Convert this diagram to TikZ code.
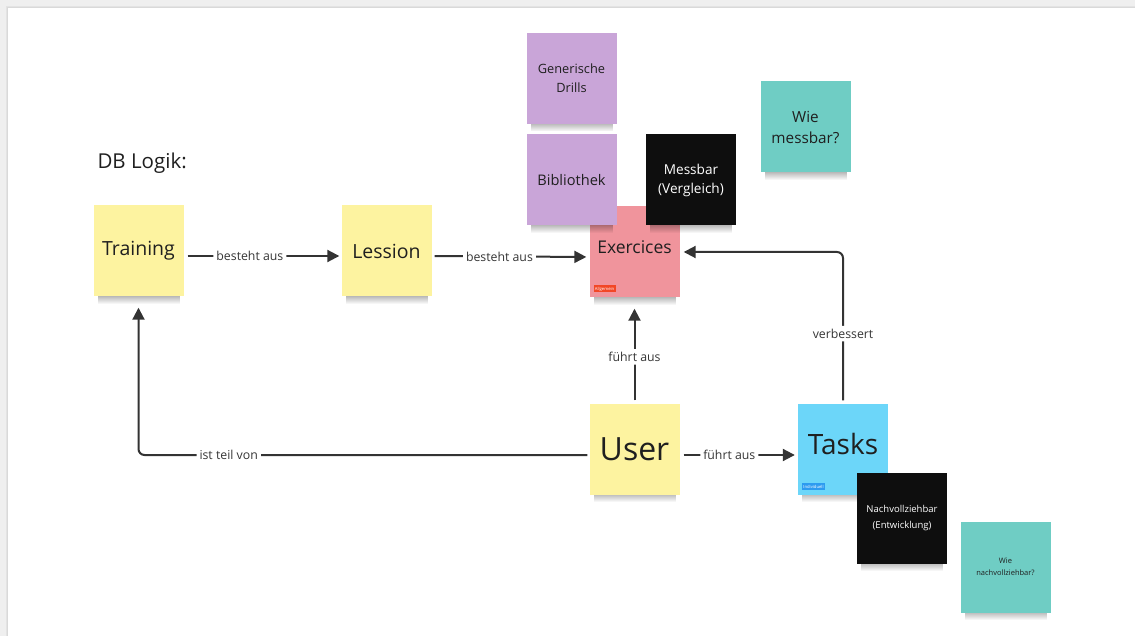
\documentclass[tikz,border=0pt]{standalone}
\usepackage{fontspec}
\setmainfont{Open Sans}
\usetikzlibrary{arrows.meta,fadings}

\definecolor{bgframe}{HTML}{EFEFEF}
\definecolor{ink}{HTML}{1F1F1F}
\definecolor{wire}{HTML}{333333}
\definecolor{noteyellow}{HTML}{FDF3A0}
\definecolor{notepink}{HTML}{F0949C}
\definecolor{notepurple}{HTML}{C9A5D8}
\definecolor{noteteal}{HTML}{6FCDC4}
\definecolor{noteblue}{HTML}{6CD6F9}
\definecolor{noteblack}{HTML}{0E0E0E}
\definecolor{tagred}{HTML}{F24726}
\definecolor{tagblue}{HTML}{2D9BF0}

\tikzset{
  sticky/.style={rectangle, minimum width=90pt, minimum height=91pt,
    inner sep=2pt, align=center, text=ink},
  darksticky/.style={sticky, fill=noteblack, text=white},
  wirelabel/.style={fill=white, inner sep=3pt, font=\fontsize{12.3}{14}\selectfont, text=ink!90},
  link/.style={draw=wire, line width=2pt, rounded corners=6pt,
    -{Triangle[length=12pt,width=12pt]}},
  tag/.style={inner sep=1.4pt, font=\fontsize{4.2}{5}\selectfont, text=white, anchor=south west},
}

% soft shadow under a sticky note centred at (#1,#2)
\newcommand\noteshadow[2]{%
  \fill[black, opacity=.45, path fading=south]
    (#1-41,#2+40) rectangle (#1+41,#2+53);
}

\begin{document}
\begin{tikzpicture}[x=1pt, y=-1pt]
  \useasboundingbox (0,0) rectangle (1135,636);

  % board frame
  \fill[bgframe] (0,0) rectangle (1135,636);
  \fill[gray!22] (6,6) rectangle (1135,636);
  \fill[gray!30] (7,7) rectangle (1135,636);
  \fill[white] (8,8) rectangle (1135,636);

  \node[anchor=west, font=\fontsize{20.5}{24}\selectfont, text=ink] (title) at (94,163) {DB Logik:};

  % main entities
  \noteshadow{138.5}{251}
  \node[sticky, fill=noteyellow, font=\fontsize{19.5}{23}\selectfont] (training) at (138.5,251) {Training};
  \noteshadow{386.5}{251}
  \node[sticky, fill=noteyellow, font=\fontsize{19.5}{23}\selectfont] (lession) at (386.5,251) {Lession};

  \noteshadow{634.5}{252}
  \node[sticky, fill=notepink, font=\fontsize{17.5}{20}\selectfont] (exercices) at (634.5,252) {\raisebox{10pt}{Exercices}};
  \node[tag, fill=tagred] (tagall) at ([xshift=4pt,yshift=5pt]exercices.south west) {Allgemein};

  \noteshadow{571.5}{78.5}
  \node[sticky, fill=notepurple, font=\fontsize{12.8}{19}\selectfont] (drills) at (571.5,78.5) {Generische\\Drills};
  \noteshadow{571.5}{180}
  \node[sticky, fill=notepurple, font=\fontsize{14.6}{17}\selectfont] (biblio) at (571.5,180) {Bibliothek};
  \noteshadow{691}{180}
  \node[darksticky, font=\fontsize{13.6}{19}\selectfont] (messbar) at (691,180) {Messbar\\(Vergleich)};

  \noteshadow{805.5}{127}
  \node[sticky, fill=noteteal, font=\fontsize{15.3}{21}\selectfont] (wiemess) at (805.5,127) {Wie\\messbar?};

  \noteshadow{634.5}{449}
  \node[sticky, fill=noteyellow, font=\fontsize{32}{36}\selectfont] (user) at (634.5,449) {User};

  \noteshadow{843}{449}
  \node[sticky, fill=noteblue, font=\fontsize{28}{32}\selectfont] (tasks) at (843,449) {\raisebox{10pt}{Tasks}};
  \node[tag, fill=tagblue] (tagind) at ([xshift=4pt,yshift=5pt]tasks.south west) {Individuell};

  \noteshadow{902}{518}
  \node[darksticky, font=\fontsize{9.5}{16}\selectfont] (nachv) at (902,518) {Nachvollziehbar\\(Entwicklung)};

  \noteshadow{1005.5}{567}
  \node[sticky, fill=noteteal, font=\fontsize{7.5}{12}\selectfont] (wienach) at (1005.5,567) {Wie\\nachvollziehbar?};

  % relations
  \draw[link, shorten <=4pt, shorten >=2pt] ([yshift=-5pt]training.east) --
    node[wirelabel, pos=.42] {besteht aus} ([yshift=-5pt]lession.west);
  \draw[link, shorten <=3pt, shorten >=3pt] ([yshift=-5pt]lession.east) --
    node[wirelabel, pos=.43] {besteht aus} ([yshift=-5pt]exercices.west);
  \draw[link, shorten <=3pt, shorten >=11pt] (user.north) --
    node[wirelabel, pos=.44] {führt aus} (exercices.south);
  \draw[link, shorten <=4pt, shorten >=3pt] ([yshift=-6pt]user.east) --
    node[wirelabel, pos=.42] {führt aus} ([yshift=-6pt]tasks.west);
  \draw[link, shorten <=2pt, shorten >=11pt] ([yshift=-6pt]user.west) --
    node[wirelabel, pos=.8] {ist teil von} ([yshift=-6pt]user.west -| training.south) -- (training.south);
  \draw[link, shorten <=3pt, shorten >=4pt] (tasks.north) --
    node[wirelabel, pos=.46] {verbessert} (tasks.north |- exercices.east) -- (exercices.east);
\end{tikzpicture}
\end{document}
